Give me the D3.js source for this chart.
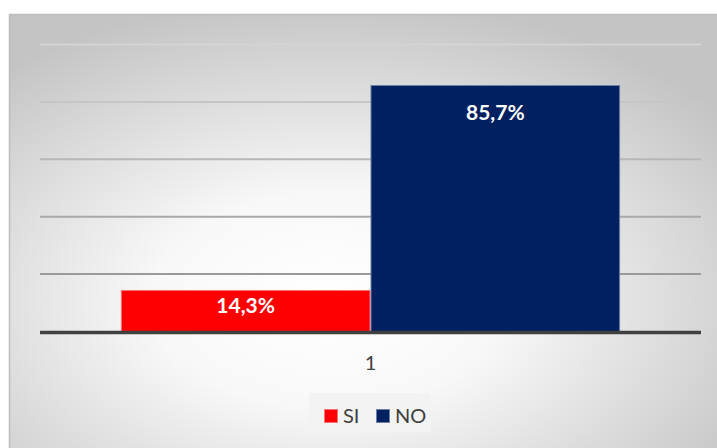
<!DOCTYPE html>
<html>
<head>
<meta charset="utf-8">
<script src="https://cdn.jsdelivr.net/npm/d3@7"></script>
<style>
    body { margin: 0; background: #fff; }
    svg { display: block; font-family: Lato, "Open Sans", sans-serif; }
    .bar-label { fill: #fff; font-weight: bold; font-size: 21px; text-anchor: middle; }
    .tick-label { fill: #404040; font-size: 20px; text-anchor: middle; }
    .legend-text { fill: #404040; font-size: 20px; }
</style>
</head>
<body>
<svg id="chart"></svg>
<script>
// data
const categories = ['1'];
const seriesNames = ['SI', 'NO'];
const seriesValues = [0.143, 0.857];
const valueLabels = ['14,3%', '85,7%'];
const yTicks = [0.2, 0.4, 0.6, 0.8, 1.0];

const colors = ['#ff0000', '#002060'];
const borders = ['#ff7070', '#6b7fa8'];

class BarChart {
    constructor(_config) {
        this.config = {
            parentElement: _config.parentElement,
            containerWidth: _config.containerWidth || 717,
            containerHeight: _config.containerHeight || 448,
            margin: _config.margin || {top: 44, right: 16, bottom: 117, left: 40}
        }
        this.initVis();
    }

    initVis() {
        let vis = this;

        vis.width = vis.config.containerWidth - vis.config.margin.left - vis.config.margin.right;
        vis.height = vis.config.containerHeight - vis.config.margin.top - vis.config.margin.bottom;

        vis.svg = d3.select(vis.config.parentElement)
            .attr('width', vis.config.containerWidth)
            .attr('height', vis.config.containerHeight);

        const defs = vis.svg.append('defs');
        const bg = defs.append('radialGradient')
            .attr('id', 'bg')
            .attr('cx', '45%').attr('cy', '66%').attr('r', '70%');
        bg.append('stop').attr('offset', '0%').attr('stop-color', '#ffffff');
        bg.append('stop').attr('offset', '35%').attr('stop-color', '#f8f8f8');
        bg.append('stop').attr('offset', '100%').attr('stop-color', '#c4c4c4');

        // panel
        vis.svg.append('rect')
            .attr('x', 9).attr('y', 14)
            .attr('width', vis.config.containerWidth - 9)
            .attr('height', vis.config.containerHeight - 14)
            .attr('fill', 'url(#bg)');
        vis.svg.append('path')
            .attr('d', `M9.5,${vis.config.containerHeight} V14.5 H${vis.config.containerWidth}`)
            .attr('fill', 'none')
            .attr('stroke', '#bdbdbd')
            .attr('stroke-width', 1.5);

        vis.chart = vis.svg.append('g')
            .attr('transform', `translate(${vis.config.margin.left}, ${vis.config.margin.top})`);

        vis.xScale = d3.scaleBand()
            .domain(categories)
            .range([0, vis.width])
            .paddingInner(0)
            .paddingOuter(0.162);

        vis.xSeries = d3.scaleBand()
            .domain(seriesNames)
            .range([0, vis.xScale.bandwidth()])
            .padding(0);

        vis.yScale = d3.scaleLinear()
            .domain([0, 1])
            .range([vis.height, 0]);

        // gridlines fade out towards the top
        vis.gridColor = d3.scaleLinear()
            .domain([0.2, 1])
            .range(['#9a9a9a', '#d4d4d4']);

        vis.updateVis();
    }

    updateVis() {
        let vis = this;

        // gridlines
        vis.chart.append('g')
            .call(d3.axisLeft(vis.yScale)
                .tickValues(yTicks)
                .tickSize(-vis.width)
                .tickFormat(''))
            .call(g => g.select('.domain').remove())
            .call(g => g.selectAll('.tick line')
                .attr('stroke', d => vis.gridColor(d))
                .attr('stroke-width', 2));

        const rows = seriesNames.map((s, i) => ({name: s, value: seriesValues[i], label: valueLabels[i], i: i}));

        const group = vis.chart.append('g')
            .attr('transform', `translate(${vis.xScale(categories[0])}, 0)`);

        group.selectAll('.bar')
            .data(rows)
            .join('rect')
                .attr('class', 'bar')
                .attr('x', d => vis.xSeries(d.name) + 0.5)
                .attr('y', d => vis.yScale(d.value) + 0.5)
                .attr('width', vis.xSeries.bandwidth() - 1)
                .attr('height', d => vis.height - vis.yScale(d.value))
                .attr('fill', d => colors[d.i])
                .attr('stroke', d => borders[d.i])
                .attr('stroke-width', 1);

        // label offsets from bar top, as placed in the original
        const labelDy = [23, 35];
        group.selectAll('.bar-label')
            .data(rows)
            .join('text')
                .attr('class', 'bar-label')
                .attr('x', d => vis.xSeries(d.name) + vis.xSeries.bandwidth() / 2)
                .attr('y', d => vis.yScale(d.value) + labelDy[d.i])
                .text(d => d.label);

        // x axis
        vis.chart.append('line')
            .attr('x1', 0).attr('x2', vis.width)
            .attr('y1', vis.height + 1.5).attr('y2', vis.height + 1.5)
            .attr('stroke', '#404040')
            .attr('stroke-width', 3.5);

        vis.chart.selectAll('.tick-label')
            .data(categories)
            .join('text')
                .attr('class', 'tick-label')
                .attr('x', d => vis.xScale(d) + vis.xScale.bandwidth() / 2)
                .attr('y', vis.height + 39)
                .text(d => d);

        // legend
        const legend = vis.svg.append('g')
            .attr('transform', 'translate(309, 393)');
        legend.append('rect')
            .attr('width', 122).attr('height', 39)
            .attr('fill', '#f3f3f3');
        const item = legend.selectAll('.legend-item')
            .data(rows)
            .join('g')
                .attr('class', 'legend-item')
                .attr('transform', (d, i) => `translate(${15 + i * 52}, 0)`);
        item.append('rect')
            .attr('x', 0.5).attr('y', 16.5)
            .attr('width', 13).attr('height', 13)
            .attr('fill', d => colors[d.i])
            .attr('stroke', d => borders[d.i]);
        item.append('text')
            .attr('class', 'legend-text')
            .attr('x', 19).attr('y', 30)
            .text(d => d.name);
    }
}

new BarChart({parentElement: '#chart'});
</script>
</body>
</html>
